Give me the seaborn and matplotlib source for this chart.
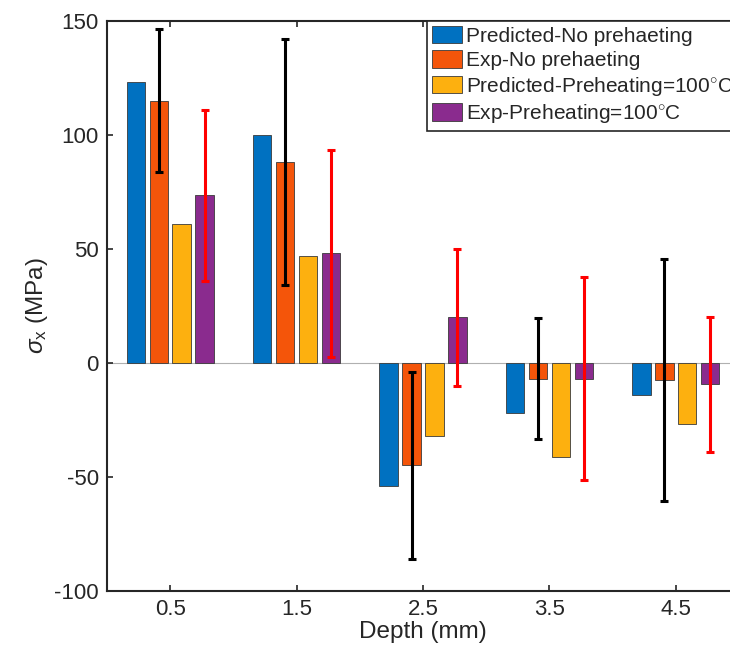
import numpy as np
import pandas as pd
import matplotlib
matplotlib.use('Agg')
import matplotlib.pyplot as plt
import seaborn as sns

# valores
depth = ['0.5', '1.5', '2.5', '3.5', '4.5']
pred_no = [123, 100, -54, -22, -14]
exp_no = [115, 88, -45, -7, -7.5]
pred_pre = [61, 47, -32, -41.5, -27]
exp_pre = [73.5, 48, 20, -7, -9.5]
err_no = [31.5, 54, 41, 26.5, 53]
err_pre = [37.5, 45.5, 30, 44.5, 29.5]

series = ['Predicted-No prehaeting', 'Exp-No prehaeting',
          'Predicted-Preheating=100$^{\\circ}$C', 'Exp-Preheating=100$^{\\circ}$C']
cores = ['#0071C1', '#F4550A', '#FDB00F', '#8A2B8E']

df = pd.DataFrame({
    'depth': depth * 4,
    'sigma': pred_no + exp_no + pred_pre + exp_pre,
    'serie': [s for s in series for _ in depth],
})

sns.set_style('white')
plt.rcParams['font.family'] = ['Liberation Sans', 'DejaVu Sans']
plt.rcParams['mathtext.fontset'] = 'custom'
plt.rcParams['mathtext.rm'] = 'Liberation Sans'
plt.rcParams['mathtext.it'] = 'Liberation Sans:italic'
plt.rcParams['axes.unicode_minus'] = False

fig = plt.figure(figsize=(7.3, 6.57), dpi=100)
ax = fig.add_axes([107 / 730, 1 - 590.7 / 657, 632 / 730, 570 / 657])

sns.barplot(data=df, x='depth', y='sigma', hue='serie', order=depth, hue_order=series,
            palette=cores, width=0.727, gap=0.2, edgecolor='#3a3a3a', linewidth=0.6,
            saturation=1, ax=ax)

ax.axhline(0, color='#b0b0b0', lw=0.8, zorder=0.5)

# barras de erro nas series experimentais (preta = sem preaquecimento, vermelha = 100C)
for idx, vals, err, cor in [(1, exp_no, err_no, 'black'), (3, exp_pre, err_pre, 'red')]:
    xs = [b.get_x() + b.get_width() / 2 for b in ax.containers[idx]]
    ax.errorbar(xs, vals, yerr=err, fmt='none', ecolor=cor, elinewidth=2.2,
                capsize=2.8, capthick=2.2, zorder=5)

ax.set_xlim(-0.5, 4.5)
ax.set_ylim(-100, 150)
ax.set_yticks([-100, -50, 0, 50, 100, 150])
ax.set_xlabel('Depth (mm)', fontsize=17.5, color='#262626', labelpad=1)
ax.set_ylabel('$\\sigma_{\\mathrm{x}}$ (MPa)', fontsize=17.5, color='#262626', labelpad=3)

ax.tick_params(axis='both', direction='in', length=4, width=1.2, labelsize=16,
               colors='#262626', top=True, bottom=True, left=True, right=False, pad=6)
for s in ['left', 'bottom', 'top']:
    ax.spines[s].set_color('#262626')
    ax.spines[s].set_linewidth(1.5)
ax.spines['right'].set_visible(False)

h, l = ax.get_legend_handles_labels()
leg = ax.legend(h, l, loc='upper right', fontsize=15, frameon=True, fancybox=False,
                framealpha=1, edgecolor='#262626', borderaxespad=0, handlelength=1.45,
                handleheight=0.9, handletextpad=0.2, labelspacing=0.22, borderpad=0.25)
leg.get_frame().set_linewidth(1.2)

fig.savefig('out.png', dpi=100, facecolor='white')
